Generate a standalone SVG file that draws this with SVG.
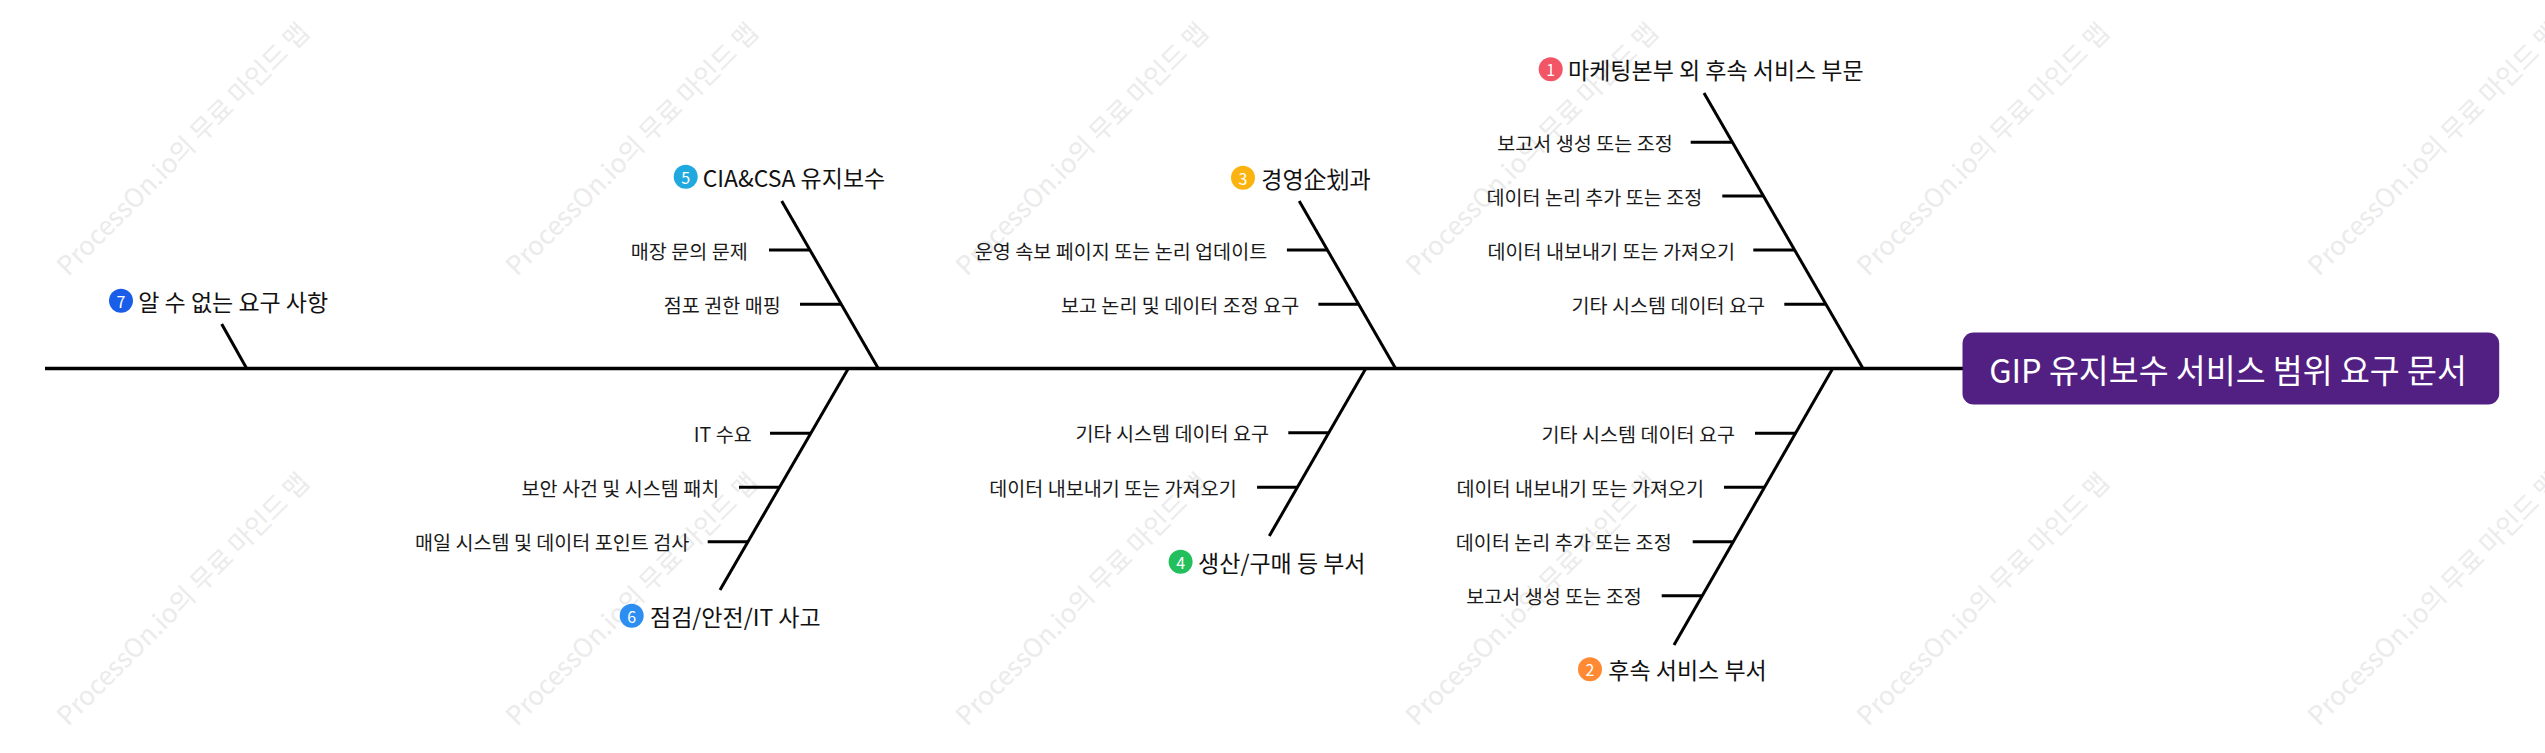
<svg xmlns="http://www.w3.org/2000/svg" width="2545" height="753" viewBox="0 0 2545 753">
<style>
text{font-family:"Noto Sans CJK KR","Noto Sans",sans-serif;}
.wm{font-size:26px;fill:#ebebeb;}
.ln{stroke:#000;stroke-width:3;fill:none;stroke-linecap:butt;}
.sub{font-size:19.6px;fill:#1a1a1a;text-anchor:end;dominant-baseline:central;}
.main{font-size:23px;fill:#111;dominant-baseline:central;}
.num{font-size:16px;fill:#fff;text-anchor:middle;dominant-baseline:central;}
.title{font-size:32.5px;fill:#fff;text-anchor:middle;dominant-baseline:central;}
</style>
<rect width="2545" height="753" fill="#fff"/>
<g id="watermarks">
<text class="wm" transform="translate(68,277) rotate(-45)">ProcessOn.io의 무료 마인드 맵</text>
<text class="wm" transform="translate(517,277) rotate(-45)">ProcessOn.io의 무료 마인드 맵</text>
<text class="wm" transform="translate(967,277) rotate(-45)">ProcessOn.io의 무료 마인드 맵</text>
<text class="wm" transform="translate(1417,277) rotate(-45)">ProcessOn.io의 무료 마인드 맵</text>
<text class="wm" transform="translate(1868,277) rotate(-45)">ProcessOn.io의 무료 마인드 맵</text>
<text class="wm" transform="translate(2319,277) rotate(-45)">ProcessOn.io의 무료 마인드 맵</text>
<text class="wm" transform="translate(68,727) rotate(-45)">ProcessOn.io의 무료 마인드 맵</text>
<text class="wm" transform="translate(517,727) rotate(-45)">ProcessOn.io의 무료 마인드 맵</text>
<text class="wm" transform="translate(967,727) rotate(-45)">ProcessOn.io의 무료 마인드 맵</text>
<text class="wm" transform="translate(1417,727) rotate(-45)">ProcessOn.io의 무료 마인드 맵</text>
<text class="wm" transform="translate(1868,727) rotate(-45)">ProcessOn.io의 무료 마인드 맵</text>
<text class="wm" transform="translate(2319,727) rotate(-45)">ProcessOn.io의 무료 마인드 맵</text>
</g>
<g id="connectors">
<line class="ln" x1="45" y1="368.5" x2="1963" y2="368.5" style="stroke-width:3.5"/>
<!-- branch 1 -->
<line class="ln" x1="1704" y1="93" x2="1863" y2="368.5"/>
<line class="ln" x1="1690.7" y1="142.3" x2="1732.4" y2="142.3"/>
<line class="ln" x1="1722.3" y1="196" x2="1763.3" y2="196"/>
<line class="ln" x1="1753.3" y1="250" x2="1794" y2="250"/>
<line class="ln" x1="1784.3" y1="304.3" x2="1825" y2="304.3"/>
<!-- branch 2 -->
<line class="ln" x1="1832.7" y1="368.5" x2="1674" y2="645"/>
<line class="ln" x1="1755" y1="433.3" x2="1795.7" y2="433.3"/>
<line class="ln" x1="1724" y1="487.3" x2="1764.5" y2="487.3"/>
<line class="ln" x1="1692.7" y1="541.7" x2="1733.4" y2="541.7"/>
<line class="ln" x1="1661.7" y1="595.7" x2="1702.3" y2="595.7"/>
<!-- branch 3 -->
<line class="ln" x1="1299.2" y1="201" x2="1395.6" y2="368.5"/>
<line class="ln" x1="1286.9" y1="250" x2="1327.5" y2="250"/>
<line class="ln" x1="1318.4" y1="304.3" x2="1358.5" y2="304.3"/>
<!-- branch 4 -->
<line class="ln" x1="1365.8" y1="368.5" x2="1269.3" y2="536"/>
<line class="ln" x1="1288.3" y1="432.7" x2="1329" y2="432.7"/>
<line class="ln" x1="1257.1" y1="487.3" x2="1297.3" y2="487.3"/>
<!-- branch 5 -->
<line class="ln" x1="781.7" y1="201" x2="878.3" y2="368.5"/>
<line class="ln" x1="769" y1="250" x2="810" y2="250"/>
<line class="ln" x1="800" y1="304.3" x2="841" y2="304.3"/>
<!-- branch 6 -->
<line class="ln" x1="848.3" y1="368.5" x2="720" y2="590"/>
<line class="ln" x1="770" y1="433.3" x2="811" y2="433.3"/>
<line class="ln" x1="739" y1="487.3" x2="779.5" y2="487.3"/>
<line class="ln" x1="707.7" y1="541.7" x2="748" y2="541.7"/>
<!-- branch 7 -->
<line class="ln" x1="221.7" y1="324" x2="246.7" y2="368.5"/>
</g>
<g id="root">
<rect x="1962.5" y="332.5" width="536.7" height="72" rx="11" fill="#521f82"/>
<text class="title" x="2228" y="368.5">GIP 유지보수 서비스 범위 요구 문서</text>
</g>
<g id="branch1">
<circle cx="1550.7" cy="69.3" r="12" fill="#f25565"/>
<text class="num" x="1550.7" y="69.3">1</text>
<text class="main" x="1568" y="69.3">마케팅본부 외 후속 서비스 부문</text>
<text class="sub" x="1672.7" y="142.3">보고서 생성 또는 조정</text>
<text class="sub" x="1702.3" y="196">데이터 논리 추가 또는 조정</text>
<text class="sub" x="1735" y="250">데이터 내보내기 또는 가져오기</text>
<text class="sub" x="1765" y="304.3">기타 시스템 데이터 요구</text>
</g>
<g id="branch2">
<circle cx="1590" cy="669.3" r="12" fill="#ff8a33"/>
<text class="num" x="1590" y="669.3">2</text>
<text class="main" x="1608.3" y="669.3">후속 서비스 부서</text>
<text class="sub" x="1735" y="433.3">기타 시스템 데이터 요구</text>
<text class="sub" x="1704" y="487.3">데이터 내보내기 또는 가져오기</text>
<text class="sub" x="1671.7" y="541.7">데이터 논리 추가 또는 조정</text>
<text class="sub" x="1641.7" y="595.7">보고서 생성 또는 조정</text>
</g>
<g id="branch3">
<circle cx="1243" cy="177.7" r="12" fill="#fbb40f"/>
<text class="num" x="1243" y="177.7">3</text>
<text class="main" x="1261.3" y="177.7">경영企划과</text>
<text class="sub" x="1267.2" y="250">운영 속보 페이지 또는 논리 업데이트</text>
<text class="sub" x="1299.2" y="304.3">보고 논리 및 데이터 조정 요구</text>
</g>
<g id="branch4">
<circle cx="1180.6" cy="561.7" r="12" fill="#23bf5c"/>
<text class="num" x="1180.6" y="561.7">4</text>
<text class="main" x="1198.1" y="561.7">생산/구매 등 부서</text>
<text class="sub" x="1269" y="432.7">기타 시스템 데이터 요구</text>
<text class="sub" x="1236.7" y="487.3">데이터 내보내기 또는 가져오기</text>
</g>
<g id="branch5">
<circle cx="685.7" cy="176.7" r="12" fill="#1fa9df"/>
<text class="num" x="685.7" y="176.7">5</text>
<text class="main" x="702.7" y="176.7">CIA&amp;CSA 유지보수</text>
<text class="sub" x="747.7" y="250">매장 문의 문제</text>
<text class="sub" x="780.7" y="304.3">점포 권한 매핑</text>
</g>
<g id="branch6">
<circle cx="631.7" cy="615.7" r="12" fill="#2b8ef0"/>
<text class="num" x="631.7" y="615.7">6</text>
<text class="main" x="650" y="615.7">점검/안전/IT 사고</text>
<text class="sub" x="751.7" y="433.3">IT 수요</text>
<text class="sub" x="719.3" y="487.3">보안 사건 및 시스템 패치</text>
<text class="sub" x="689.3" y="541.7">매일 시스템 및 데이터 포인트 검사</text>
</g>
<g id="branch7">
<circle cx="121" cy="300.7" r="12" fill="#1a5de8"/>
<text class="num" x="121" y="300.7">7</text>
<text class="main" x="138.3" y="300.7">알 수 없는 요구 사항</text>
</g>
</svg>
